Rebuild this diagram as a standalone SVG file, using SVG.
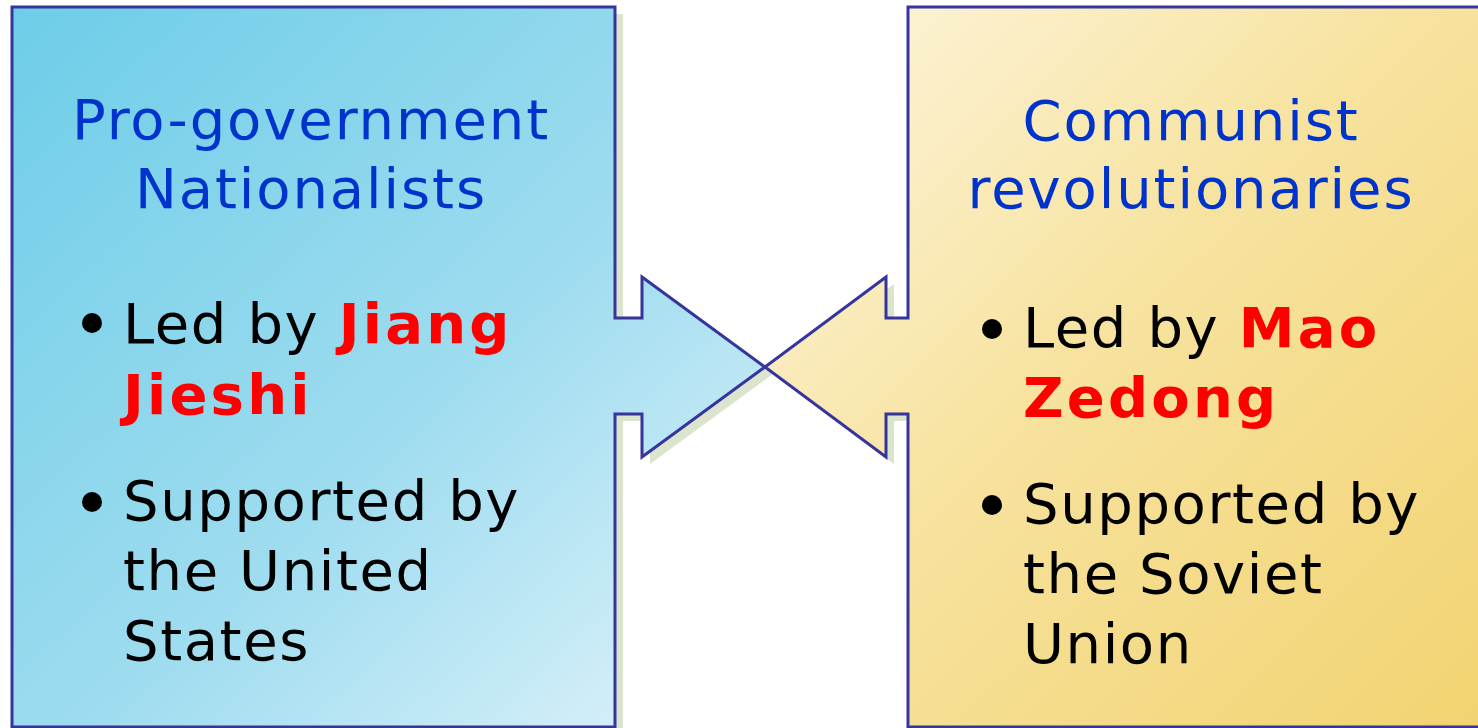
<svg xmlns="http://www.w3.org/2000/svg" width="1478" height="728" viewBox="0 0 1478 728">
<defs>
<linearGradient id="gBlue" x1="0" y1="0" x2="1" y2="1" gradientUnits="objectBoundingBox">
<stop offset="0" stop-color="#6dcde8"/>
<stop offset="0.55" stop-color="#9edcef"/>
<stop offset="1" stop-color="#e2f4fb"/>
</linearGradient>
<linearGradient id="gGold" x1="0" y1="0" x2="1" y2="1" gradientUnits="objectBoundingBox">
<stop offset="0" stop-color="#fdf6e0"/>
<stop offset="0.45" stop-color="#f7e3a0"/>
<stop offset="1" stop-color="#f2d370"/>
</linearGradient>
<style>
.shadow{fill:#dbe4cc;}
.outline{stroke:#35359c;stroke-width:3;stroke-linejoin:miter;}
.title{font-family:"DejaVu Sans",Verdana,sans-serif;font-size:56px;fill:#0033cc;text-anchor:middle;letter-spacing:1.9px;}
.body{font-family:"DejaVu Sans",Verdana,sans-serif;font-size:56px;fill:#000000;letter-spacing:1.6px;}
.hl{fill:#ff0000;font-weight:bold;letter-spacing:3.2px;}
.dot{fill:#000000;}
</style>
</defs>
<g id="connectors"></g>
<g id="left-node">
<path class="shadow" d="M20,14 H623 V325 H650 V284 L773,374 L650,464 V421 H623 V735 H20 Z"/>
<path class="outline" fill="url(#gBlue)" d="M12,7 H615 V318 H642 V277 L765,367 L642,457 V414 H615 V727 H12 Z"/>
<text class="title" x="311" y="139">Pro-government</text>
<text class="title" x="311" y="208">Nationalists</text>
<circle class="dot" cx="92" cy="323" r="10"/>
<text class="body" x="123" y="343">Led by <tspan class="hl">Jiang</tspan></text>
<text class="body hl" x="123" y="414">Jieshi</text>
<circle class="dot" cx="92" cy="502" r="10"/>
<text class="body" x="123" y="520">Supported by</text>
<text class="body" x="123" y="590">the United</text>
<text class="body" x="123" y="660">States</text>
</g>
<g id="right-node">
<path class="shadow" d="M916,14 H1490 V735 H916 V421 H894 V464 L773,374 L894,284 V325 H916 Z"/>
<path class="outline" fill="url(#gGold)" d="M908,7 H1490 V727 H908 V414 H886 V457 L765,367 L886,277 V318 H908 Z"/>
<text class="title" x="1191" y="140">Communist</text>
<text class="title" x="1191" y="208">revolutionaries</text>
<circle class="dot" cx="992" cy="329" r="10"/>
<text class="body" x="1023" y="347">Led by <tspan class="hl">Mao</tspan></text>
<text class="body hl" x="1023" y="417">Zedong</text>
<circle class="dot" cx="992" cy="505" r="10"/>
<text class="body" x="1023" y="523">Supported by</text>
<text class="body" x="1023" y="593">the Soviet</text>
<text class="body" x="1023" y="663">Union</text>
</g>
</svg>
